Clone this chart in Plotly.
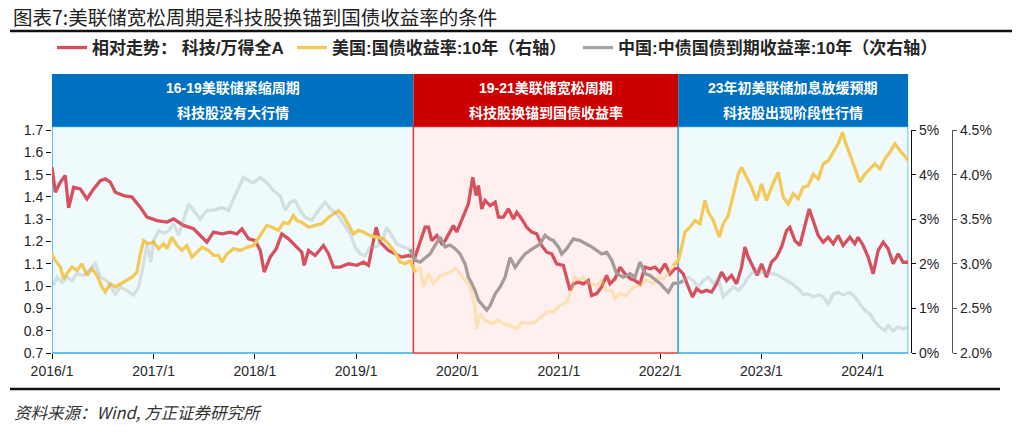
import numpy as np
import pandas as pd
import plotly.graph_objects as go

# ---------------- data (decimal year, value) ----------------
# 相对走势：科技/万得全A (left axis)
ratio = [
    (2016.000,1.533),(2016.033,1.421),(2016.082,1.466),(2016.131,1.496),(2016.164,1.351),(2016.214,1.443),
    (2016.279,1.436),(2016.345,1.391),(2016.411,1.436),(2016.477,1.473),(2016.526,1.481),(2016.575,1.466),
    (2016.625,1.421),(2016.707,1.406),(2016.789,1.399),(2016.871,1.354),(2016.937,1.309),(2017.036,1.294),
    (2017.134,1.287),(2017.200,1.301),(2017.298,1.272),(2017.397,1.257),(2017.463,1.227),(2017.529,1.197),
    (2017.594,1.242),(2017.677,1.234),(2017.759,1.242),(2017.824,1.234),(2017.874,1.257),(2017.940,1.212),
    (2018.005,1.204),(2018.055,1.160),(2018.094,1.063),(2018.153,1.130),(2018.212,1.167),(2018.268,1.234),
    (2018.334,1.212),(2018.400,1.182),(2018.465,1.152),(2018.488,1.093),(2018.531,1.160),(2018.597,1.137),
    (2018.679,1.182),(2018.728,1.145),(2018.778,1.085),(2018.843,1.085),(2018.926,1.100),(2019.008,1.093),
    (2019.074,1.107),(2019.123,1.093),(2019.166,1.182),(2019.199,1.264),(2019.238,1.197),(2019.320,1.160),
    (2019.386,1.145),(2019.452,1.130),(2019.517,1.137),
    (2019.583,1.130),(2019.616,1.175),(2019.682,1.264),(2019.715,1.264),(2019.748,1.204),(2019.797,1.227),
    (2019.846,1.190),(2019.879,1.204),(2019.928,1.249),(2019.961,1.272),(2019.994,1.242),(2020.043,1.294),
    (2020.076,1.331),(2020.109,1.369),(2020.152,1.488),(2020.185,1.406),(2020.208,1.451),(2020.241,1.346),
    (2020.274,1.384),(2020.323,1.361),(2020.373,1.376),(2020.406,1.309),(2020.454,1.309),(2020.504,1.346),
    (2020.553,1.301),(2020.586,1.331),(2020.635,1.301),(2020.684,1.264),(2020.734,1.242),(2020.783,1.234),
    (2020.832,1.182),(2020.882,1.152),(2020.931,1.145),(2020.980,1.100),(2021.046,1.093),(2021.079,1.040),
    (2021.112,0.981),(2021.145,1.010),(2021.194,1.018),(2021.243,1.010),(2021.292,1.025),(2021.325,0.958),
    (2021.375,0.966),(2021.424,0.996),(2021.473,1.048),(2021.506,1.010),(2021.556,1.033),(2021.605,1.085),
    (2021.654,1.055),(2021.710,1.033),(2021.753,1.025),(2021.802,1.010),(2021.852,1.085),(2021.901,1.078),
    (2021.950,1.085),(2021.999,1.063),(2022.049,1.100),(2022.098,1.055),(2022.148,1.078),
    (2022.180,1.078),(2022.229,1.055),(2022.279,0.996),(2022.321,0.951),(2022.361,0.988),(2022.410,0.973),
    (2022.459,0.981),(2022.509,0.973),(2022.558,1.010),(2022.607,1.063),(2022.657,1.025),(2022.706,1.048),
    (2022.755,1.010),(2022.805,1.085),(2022.838,1.175),(2022.870,1.130),(2022.920,1.085),(2022.959,1.048),
    (2023.002,1.100),(2023.051,1.040),(2023.100,1.107),(2023.150,1.130),(2023.199,1.175),(2023.249,1.249),
    (2023.281,1.264),(2023.331,1.204),(2023.380,1.182),(2023.429,1.264),(2023.472,1.346),(2023.511,1.294),
    (2023.561,1.227),(2023.610,1.197),(2023.659,1.219),(2023.709,1.190),(2023.758,1.227),(2023.807,1.182),
    (2023.873,1.219),(2023.922,1.190),(2023.955,1.219),(2024.005,1.182),(2024.054,1.130),(2024.103,1.055),
    (2024.153,1.160),(2024.202,1.197),(2024.251,1.167),(2024.301,1.100),(2024.350,1.145),(2024.399,1.107),
    (2024.449,1.107),
]

# 美国:国债收益率:10年 (右轴, %)
us10y = [
    (2016.000,2.22),(2016.033,2.07),(2016.082,1.93),(2016.115,1.66),(2016.148,1.78),(2016.197,1.93),
    (2016.247,1.85),(2016.296,2.00),(2016.345,1.74),(2016.394,1.89),(2016.444,1.74),(2016.493,1.48),
    (2016.526,1.37),(2016.575,1.55),(2016.625,1.48),(2016.674,1.55),(2016.740,1.63),(2016.789,1.70),
    (2016.838,1.81),(2016.871,2.22),(2016.904,2.52),(2016.953,2.45),(2017.003,2.49),(2017.052,2.34),
    (2017.101,2.45),(2017.134,2.34),(2017.183,2.60),(2017.233,2.41),(2017.282,2.30),(2017.331,2.41),
    (2017.381,2.15),(2017.430,2.26),(2017.479,2.37),(2017.545,2.30),(2017.594,2.19),(2017.644,2.19),
    (2017.677,2.04),(2017.726,2.22),(2017.792,2.34),(2017.857,2.30),(2017.923,2.37),(2017.989,2.41),
    (2018.055,2.63),(2018.120,2.86),(2018.170,2.82),(2018.235,2.75),(2018.285,2.93),(2018.334,2.90),
    (2018.383,3.08),(2018.416,2.97),(2018.465,2.93),(2018.531,2.82),(2018.597,2.86),(2018.663,2.90),
    (2018.728,3.04),(2018.778,3.12),(2018.827,3.19),(2018.876,3.08),(2018.926,2.86),(2018.975,2.67),
    (2019.024,2.75),(2019.074,2.71),(2019.139,2.63),(2019.205,2.60),(2019.271,2.56),(2019.320,2.45),
    (2019.386,2.26),(2019.435,2.04),(2019.485,2.00),(2019.534,2.07),
    (2019.583,1.81),(2019.633,1.93),(2019.665,1.48),(2019.715,1.78),(2019.764,1.55),(2019.830,1.74),
    (2019.879,1.78),(2019.928,1.81),(2019.978,1.89),(2020.027,1.78),(2020.076,1.63),(2020.126,1.48),
    (2020.175,1.03),(2020.191,0.54),(2020.224,0.88),(2020.274,0.73),(2020.339,0.66),(2020.405,0.73),
    (2020.454,0.66),(2020.520,0.62),(2020.586,0.54),(2020.635,0.69),(2020.701,0.66),(2020.767,0.69),
    (2020.832,0.81),(2020.882,0.92),(2020.948,0.92),(2021.013,1.07),(2021.079,1.14),(2021.128,1.44),
    (2021.161,1.70),(2021.194,1.63),(2021.243,1.70),(2021.309,1.55),(2021.375,1.51),(2021.424,1.63),
    (2021.473,1.40),(2021.523,1.40),(2021.556,1.22),(2021.605,1.33),(2021.671,1.29),(2021.737,1.48),
    (2021.802,1.51),(2021.868,1.63),(2021.934,1.55),(2021.983,1.70),(2022.033,1.66),(2022.082,1.78),
    (2022.131,1.96),
    (2022.180,2.07),(2022.213,2.37),(2022.246,2.71),(2022.295,2.82),(2022.345,2.97),(2022.394,2.90),
    (2022.443,3.42),(2022.476,3.16),(2022.525,2.97),(2022.585,2.60),(2022.624,2.90),(2022.673,3.08),
    (2022.739,3.72),(2022.772,4.01),(2022.805,4.16),(2022.854,3.94),(2022.903,3.72),(2022.953,3.42),
    (2023.002,3.79),(2023.051,3.42),(2023.101,3.72),(2023.166,4.05),(2023.216,3.49),(2023.265,3.34),
    (2023.314,3.57),(2023.364,3.46),(2023.413,3.72),(2023.462,3.75),(2023.512,4.01),(2023.561,3.90),
    (2023.610,4.24),(2023.660,4.31),(2023.709,4.50),(2023.758,4.69),(2023.801,4.95),(2023.824,4.76),
    (2023.873,4.46),(2023.923,4.16),(2023.972,3.83),(2024.021,4.01),(2024.070,4.13),(2024.120,4.24),
    (2024.169,4.13),(2024.218,4.35),(2024.268,4.50),(2024.317,4.69),(2024.366,4.54),(2024.399,4.46),
    (2024.449,4.31),
]

# 中国:中债国债到期收益率:10年 (次右轴, %)
cn10y = [
    (2016.016,2.76),(2016.049,2.85),(2016.099,2.79),(2016.148,2.85),(2016.197,2.81),(2016.247,2.89),
    (2016.312,2.87),(2016.378,2.94),(2016.427,3.00),(2016.477,2.85),(2016.542,2.81),(2016.625,2.66),
    (2016.674,2.74),(2016.740,2.70),(2016.805,2.65),(2016.855,2.74),(2016.904,3.00),(2016.937,3.22),
    (2016.976,3.02),(2017.003,3.26),(2017.052,3.37),(2017.101,3.34),(2017.151,3.37),(2017.200,3.45),
    (2017.249,3.32),(2017.298,3.49),(2017.348,3.67),(2017.397,3.60),(2017.463,3.50),(2017.529,3.60),
    (2017.594,3.60),(2017.677,3.63),(2017.742,3.60),(2017.792,3.73),(2017.841,3.86),(2017.890,3.97),
    (2017.940,3.93),(2017.989,3.91),(2018.055,3.97),(2018.120,3.91),(2018.186,3.82),(2018.252,3.76),
    (2018.301,3.60),(2018.350,3.69),(2018.400,3.71),(2018.449,3.60),(2018.498,3.52),(2018.564,3.49),
    (2018.630,3.60),(2018.695,3.69),(2018.745,3.62),(2018.810,3.56),(2018.876,3.45),(2018.942,3.34),
    (2018.991,3.19),(2019.041,3.11),(2019.090,3.09),(2019.139,3.19),(2019.205,3.19),(2019.271,3.30),
    (2019.304,3.41),(2019.353,3.32),(2019.403,3.22),(2019.468,3.19),(2019.534,3.16),
    (2019.583,3.04),(2019.633,3.02),(2019.682,3.07),(2019.731,3.11),(2019.781,3.21),(2019.830,3.30),
    (2019.879,3.19),(2019.928,3.21),(2019.978,3.17),(2020.027,3.11),(2020.076,3.00),(2020.109,2.85),
    (2020.142,2.78),(2020.175,2.70),(2020.208,2.59),(2020.257,2.53),(2020.290,2.48),(2020.323,2.53),
    (2020.372,2.66),(2020.422,2.74),(2020.471,2.85),(2020.520,3.07),(2020.570,2.96),(2020.619,3.04),
    (2020.668,3.11),(2020.717,3.15),(2020.767,3.19),(2020.816,3.22),(2020.865,3.32),(2020.908,3.28),
    (2020.948,3.26),(2020.997,3.19),(2021.030,3.11),(2021.079,3.17),(2021.145,3.28),(2021.211,3.26),
    (2021.276,3.22),(2021.326,3.19),(2021.375,3.15),(2021.424,3.11),(2021.474,3.13),(2021.523,3.04),
    (2021.572,2.89),(2021.638,2.85),(2021.704,2.89),(2021.753,2.85),(2021.802,3.02),(2021.852,2.89),
    (2021.901,2.87),(2021.950,2.83),(2022.000,2.78),(2022.049,2.72),(2022.082,2.68),(2022.131,2.78),
    (2022.180,2.78),(2022.229,2.81),(2022.279,2.85),(2022.328,2.81),(2022.377,2.74),(2022.427,2.81),
    (2022.476,2.85),(2022.525,2.78),(2022.575,2.83),(2022.624,2.63),(2022.673,2.68),(2022.723,2.74),
    (2022.772,2.70),(2022.821,2.76),(2022.871,2.85),(2022.920,2.91),(2022.969,2.89),(2023.018,2.91),
    (2023.068,2.89),(2023.117,2.89),(2023.166,2.87),(2023.232,2.83),(2023.298,2.78),(2023.364,2.72),
    (2023.413,2.66),(2023.462,2.66),(2023.512,2.63),(2023.561,2.65),(2023.610,2.63),(2023.660,2.55),
    (2023.709,2.66),(2023.758,2.68),(2023.807,2.65),(2023.873,2.68),(2023.923,2.63),(2023.972,2.55),
    (2024.021,2.48),(2024.070,2.44),(2024.120,2.35),(2024.169,2.29),(2024.218,2.25),(2024.251,2.31),
    (2024.301,2.25),(2024.350,2.29),(2024.399,2.27),(2024.449,2.29),
]

# periods (decimal year bounds) and their header texts
period_bounds = [2016.0, 2019.567, 2022.18, 2024.45]
period_line1 = ["16-19美联储紧缩周期", "19-21美联储宽松周期", "23年初美联储加息放缓预期"]
period_line2 = ["科技股没有大行情", "科技股换锚到国债收益率", "科技股出现阶段性行情"]

names = ["相对走势： 科技/万得全A", "美国:国债收益率:10年（右轴）", "中国:中债国债到期收益率:10年（次右轴）"]
title_text = "图表7:美联储宽松周期是科技股换锚到国债收益率的条件"
source_text = "资料来源：Wind, 方正证券研究所"

# ---------------- helpers ----------------
BASE = pd.Timestamp("2016-01-01")


def to_date(y):
    y = np.atleast_1d(np.asarray(y, dtype=float))
    return BASE + pd.to_timedelta((y - 2016.0) * 365.25, unit="D")


def split(series, lo, hi):
    t = np.array([p[0] for p in series])
    v = np.array([p[1] for p in series])
    idx = np.where((t >= lo) & (t <= hi))[0]
    if len(idx) == 0:
        return [], []
    i0 = max(idx[0] - 1, 0)
    i1 = min(idx[-1] + 1, len(t) - 1)
    return to_date(t[i0:i1 + 1]), v[i0:i1 + 1]


# pixel -> paper helpers for decoration (plot area: x 52..952 paper, y 130..353)
L, R, T, B = 52, 72, 130, 83
W, H = 1024, 436
PW, PH = W - L - R, H - T - B


def px(x):
    return (x - L) / PW


def py(y):
    return (H - B - y) / PH


RED = "#d6505e"
YEL = "#f4c957"
YEL_PALE = "rgba(246,200,90,0.38)"
GRAY_LIGHT = "rgba(160,170,172,0.34)"
GRAY_DARK = "#a69a9a"
GRAY_LEG = "#a6a6a6"
LW = 3.3

fig = go.Figure()

# red: primary axis
rt = to_date([p[0] for p in ratio])
rv = [p[1] for p in ratio]
fig.add_trace(go.Scatter(x=rt, y=rv, mode="lines", line=dict(color=RED, width=LW),
                         name=names[0], legend="legend", yaxis="y", hoverinfo="skip"))

# yellow: secondary axis, pale inside the easing period
yel_cols = [YEL, YEL_PALE, YEL]
for i in range(3):
    xs, ys = split(us10y, period_bounds[i], period_bounds[i + 1])
    fig.add_trace(go.Scatter(x=xs, y=ys, mode="lines", line=dict(color=yel_cols[i], width=LW),
                             name=names[1], legend="legend2", showlegend=(i == 0),
                             yaxis="y2", hoverinfo="skip"))

# gray: third axis, emphasised inside the easing period
gray_cols = [GRAY_LIGHT, GRAY_DARK, GRAY_LIGHT]
for i in range(3):
    xs, ys = split(cn10y, period_bounds[i], period_bounds[i + 1])
    fig.add_trace(go.Scatter(x=xs, y=ys, mode="lines", line=dict(color=gray_cols[i], width=LW),
                             name=names[2], showlegend=False, yaxis="y3", hoverinfo="skip"))
fig.add_trace(go.Scatter(x=[None], y=[None], mode="lines", line=dict(color=GRAY_LEG, width=LW),
                         name=names[2], legend="legend3", yaxis="y3", hoverinfo="skip"))

# ---------------- shapes: period boxes + headers ----------------
box_fill = ["#effafd", "#fff0f0", "#effafd"]
box_line = ["#2db3e6", "#f03c3c", "#2db3e6"]
head_fill = ["#0070c0", "#cc0000", "#0070c0"]
shapes = []
annotations = []
for i in range(3):
    x0 = to_date(period_bounds[i])[0]
    x1 = to_date(period_bounds[i + 1])[0]
    shapes.append(dict(type="rect", xref="x", yref="paper", x0=x0, x1=x1, y0=0, y1=py(126.5),
                       fillcolor=box_fill[i], line=dict(color=box_line[i], width=1.5), layer="below"))
    shapes.append(dict(type="rect", xref="x", yref="paper", x0=x0, x1=x1, y0=py(126.5), y1=py(74),
                       fillcolor=head_fill[i], line=dict(width=0), layer="below"))
    xm = to_date((period_bounds[i] + period_bounds[i + 1]) / 2)[0]
    annotations.append(dict(x=xm, y=py(88), xref="x", yref="paper", text=period_line1[i],
                            showarrow=False, xanchor="center", yanchor="middle",
                            font=dict(family="Liberation Sans, Noto Sans CJK SC", size=14,
                                      color="white", weight="bold")))
    annotations.append(dict(x=xm, y=py(112), xref="x", yref="paper", text=period_line2[i],
                            showarrow=False, xanchor="center", yanchor="middle",
                            font=dict(family="Noto Sans CJK SC", size=14, color="white",
                                      weight="bold")))

# page rules
shapes.append(dict(type="line", xref="paper", yref="paper", x0=px(10), x1=px(1012), y0=py(31), y1=py(31),
                   line=dict(color="#111111", width=2.5)))
shapes.append(dict(type="line", xref="paper", yref="paper", x0=px(10), x1=px(1000), y0=py(389), y1=py(389),
                   line=dict(color="#111111", width=2.5)))

annotations.append(dict(x=px(11), y=py(16), xref="paper", yref="paper", text=title_text, showarrow=False,
                        xanchor="left", yanchor="middle",
                        font=dict(family="Noto Sans CJK SC", size=19.5, color="#222222")))
annotations.append(dict(x=px(12), y=py(412), xref="paper", yref="paper", text=source_text, showarrow=False,
                        xanchor="left", yanchor="middle",
                        font=dict(family="Noto Sans CJK SC", size=16.5, color="#333333", style="italic")))

tickfont = dict(family="Liberation Sans, Arial", size=14, color="#262626")
legfont = dict(family="Liberation Sans, Noto Sans CJK SC", size=17, color="#262626", weight="bold")

x_end = to_date(period_bounds[-1])[0]
xdom_right = px(908.3)

fig.update_layout(
    width=W, height=H,
    margin=dict(l=L, r=R, t=T, b=B, pad=0, autoexpand=False),
    paper_bgcolor="white", plot_bgcolor="white",
    showlegend=True,
    legend=dict(x=px(52), y=py(48), xanchor="left", yanchor="middle", orientation="h",
                bgcolor="rgba(0,0,0,0)", font=legfont, itemwidth=30),
    legend2=dict(x=px(292), y=py(48), xanchor="left", yanchor="middle", orientation="h",
                 bgcolor="rgba(0,0,0,0)", font=legfont, itemwidth=30),
    legend3=dict(x=px(578), y=py(48), xanchor="left", yanchor="middle", orientation="h",
                 bgcolor="rgba(0,0,0,0)", font=legfont, itemwidth=30),
    xaxis=dict(domain=[0, xdom_right], range=[BASE, x_end], type="date",
               tick0="2016-01-01", dtick="M12", tickformat="%Y/%-m", automargin=False,
               ticks="outside", ticklen=5, tickcolor="#111111", tickwidth=1,
               showgrid=False, zeroline=False, showline=False, tickfont=tickfont),
    yaxis=dict(range=[0.7, 1.7], dtick=0.1, tick0=0.7, tickformat=".1f", automargin=False,
               ticks="outside", ticklen=5, tickcolor="#111111", tickwidth=1,
               showgrid=False, zeroline=False, showline=False, tickfont=tickfont),
    yaxis2=dict(range=[0, 5], dtick=1, tick0=0, ticksuffix="%", overlaying="y", side="right",
                anchor="free", position=px(911), automargin=False,
                ticks="outside", ticklen=4, tickcolor="#111111", tickwidth=1,
                showgrid=False, zeroline=False, showline=True, linecolor="#111111", linewidth=1.3,
                tickfont=tickfont),
    yaxis3=dict(range=[2.0, 4.5], dtick=0.5, tick0=2.0, tickformat=".1f", ticksuffix="%",
                overlaying="y", side="right", anchor="free", position=1.0, automargin=False,
                ticks="outside", ticklen=4, tickcolor="#555555", tickwidth=1,
                showgrid=False, zeroline=False, showline=True, linecolor="#555555", linewidth=1.3,
                tickfont=tickfont),
    shapes=shapes,
    annotations=annotations,
)

fig.write_html("out.html",
               config={"displayModeBar": False, "staticPlot": False},
               post_script="document.body.style.margin='0px';document.body.style.padding='0px';")
